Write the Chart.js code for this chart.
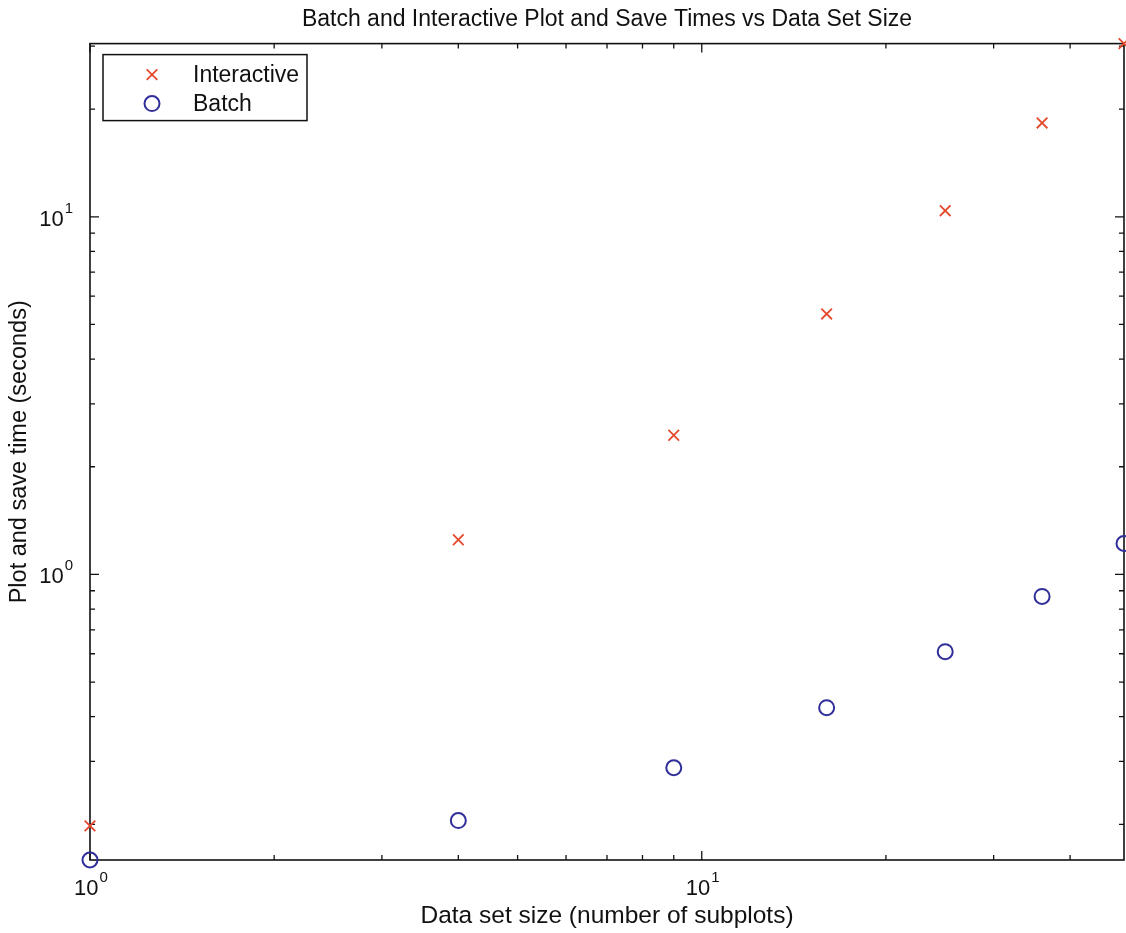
<!DOCTYPE html>
<html>
<head>
<meta charset="utf-8">
<title>Batch and Interactive Plot and Save Times</title>
<script src="https://cdn.jsdelivr.net/npm/chart.js@4.4.0/dist/chart.umd.min.js"></script>
<style>
  html, body { margin: 0; padding: 0; background: #fff; overflow: hidden; }
  #wrap { width: 1126px; height: 933px; }
</style>
</head>
<body>
<div id="wrap"><canvas id="timesChart"></canvas></div>
<script>
// data set size (number of subplots)
const subplots = [1, 4, 9, 16, 25, 36, 49];
// plot and save time, seconds
const interactiveTimes = [0.198, 1.25, 2.45, 5.35, 10.4, 18.3, 30.5];
const batchTimes = [0.159, 0.205, 0.288, 0.424, 0.608, 0.868, 1.22];
// labelled decades
const xMajorTicks = [1, 10];
const yMajorTicks = [1, 10];
const seriesLabels = ["Interactive", "Batch"];

const red = "#e5492c";
const blue = "#302e98";
const ink = "#111";
const family = "'Liberation Sans', Arial, Helvetica, sans-serif";

function toPoints(xs, ys) {
    let pts = [];
    for (let i = 0; i < xs.length; i++) pts.push({ x: xs[i], y: ys[i] });
    return pts;
}

// every 1..9 x 10^n inside the range
function logTicks(min, max) {
    let out = [];
    for (let e = Math.floor(Math.log10(min)); e <= Math.ceil(Math.log10(max)); e++) {
        for (let m = 1; m <= 9; m++) {
            let v = m * Math.pow(10, e);
            if (v >= min * 0.9999 && v <= max * 1.0001) out.push({ v: v, major: m === 1 });
        }
    }
    return out;
}

// "10" with a raised exponent
function drawPow(ctx, value, x, y, align) {
    let base = "10";
    let exp = String(Math.round(Math.log10(value)));
    ctx.font = "22px " + family;
    let wb = ctx.measureText(base).width;
    ctx.font = "15px " + family;
    let we = ctx.measureText(exp).width;
    let total = wb + 1 + we;
    let left = align === "center" ? x - total / 2 : x - total;
    ctx.fillStyle = ink;
    ctx.textAlign = "left";
    ctx.textBaseline = "alphabetic";
    ctx.font = "22px " + family;
    ctx.fillText(base, left, y);
    ctx.font = "15px " + family;
    ctx.fillText(exp, left + wb + 1, y - 13);
}

const axesBox = {
    id: "axesBox",
    beforeDatasetsDraw(chart) {
        const ctx = chart.ctx;
        const a = chart.chartArea;
        const xs = chart.scales.x;
        const ys = chart.scales.y;
        ctx.save();
        ctx.strokeStyle = ink;
        ctx.lineWidth = 1.6;
        ctx.strokeRect(a.left, a.top, a.right - a.left, a.bottom - a.top);
        ctx.lineWidth = 1.3;
        ctx.beginPath();
        logTicks(xs.min, xs.max).forEach(function (t) {
            let px = xs.getPixelForValue(t.v);
            let len = t.major ? 9 : 5;
            ctx.moveTo(px, a.bottom); ctx.lineTo(px, a.bottom - len);
            ctx.moveTo(px, a.top); ctx.lineTo(px, a.top + len);
        });
        logTicks(ys.min, ys.max).forEach(function (t) {
            let py = ys.getPixelForValue(t.v);
            let len = t.major ? 9 : 5;
            ctx.moveTo(a.left, py); ctx.lineTo(a.left + len, py);
            ctx.moveTo(a.right, py); ctx.lineTo(a.right - len, py);
        });
        ctx.stroke();
        xMajorTicks.forEach(function (v) {
            drawPow(ctx, v, xs.getPixelForValue(v) + 1, a.bottom + 35, "center");
        });
        yMajorTicks.forEach(function (v) {
            drawPow(ctx, v, a.left - 17, ys.getPixelForValue(v) + 9, "right");
        });
        ctx.restore();
    },
    afterDatasetsDraw(chart) {
        // legend box, top left inside the axes
        const ctx = chart.ctx;
        const a = chart.chartArea;
        let bx = a.left + 13, by = a.top + 11, bw = 204, bh = 66;
        ctx.save();
        ctx.fillStyle = "#fff";
        ctx.fillRect(bx, by, bw, bh);
        ctx.strokeStyle = ink;
        ctx.lineWidth = 1.5;
        ctx.strokeRect(bx, by, bw, bh);
        chart.data.datasets.forEach(function (ds, i) {
            let cy = by + 20 + i * 29;
            let cx = bx + 49;
            let r = ds.pointRadius;
            ctx.strokeStyle = ds.borderColor;
            ctx.lineWidth = ds.borderWidth;
            ctx.beginPath();
            if (ds.pointStyle === "crossRot") {
                let d = r * Math.SQRT1_2;
                ctx.moveTo(cx - d, cy - d); ctx.lineTo(cx + d, cy + d);
                ctx.moveTo(cx - d, cy + d); ctx.lineTo(cx + d, cy - d);
            } else {
                ctx.arc(cx, cy, r, 0, Math.PI * 2);
            }
            ctx.stroke();
            ctx.fillStyle = ink;
            ctx.font = "23px " + family;
            ctx.textAlign = "left";
            ctx.textBaseline = "middle";
            ctx.fillText(ds.label, bx + 90, cy + 1);
        });
        ctx.restore();
    }
};

function font(size) {
    return { family: family, size: size, weight: "normal", lineHeight: 1.2 };
}

new Chart(document.getElementById("timesChart"), {
    type: "scatter",
    data: {
        datasets: [
            {
                label: seriesLabels[0],
                data: toPoints(subplots, interactiveTimes),
                pointStyle: "crossRot",
                pointRadius: 7.5,
                pointHoverRadius: 7.5,
                borderWidth: 1.8,
                borderColor: red,
                backgroundColor: "rgba(0,0,0,0)",
                clip: false
            },
            {
                label: seriesLabels[1],
                data: toPoints(subplots, batchTimes),
                pointStyle: "circle",
                pointRadius: 7.5,
                pointHoverRadius: 7.5,
                borderWidth: 2,
                borderColor: blue,
                backgroundColor: "rgba(0,0,0,0)",
                clip: false
            }
        ]
    },
    options: {
        responsive: true,
        maintainAspectRatio: false,
        animation: false,
        layout: { autoPadding: false, padding: { left: 0, right: 2, top: 0, bottom: 0 } },
        scales: {
            x: {
                type: "logarithmic",
                min: Math.min(...subplots),
                max: Math.max(...subplots),
                grid: { display: false },
                border: { display: false },
                ticks: { display: false },
                title: {
                    display: true,
                    text: "Data set size (number of subplots)",
                    color: ink,
                    font: font(24.5),
                    padding: { top: 0, bottom: 2 }
                },
                afterFit: function (s) { s.height = 73; }
            },
            y: {
                type: "logarithmic",
                min: Math.min(...batchTimes),
                max: Math.max(...interactiveTimes),
                grid: { display: false },
                border: { display: false },
                ticks: { display: false },
                title: {
                    display: true,
                    text: "Plot and save time (seconds)",
                    color: ink,
                    font: font(23.5),
                    padding: { top: 5, bottom: 0 }
                },
                afterFit: function (s) { s.width = 90; }
            }
        },
        plugins: {
            legend: { display: false },
            tooltip: { enabled: false },
            title: {
                display: true,
                fullSize: false,
                text: "Batch and Interactive Plot and Save Times vs Data Set Size",
                color: ink,
                font: font(23),
                padding: { top: 6, bottom: 10 }
            }
        }
    },
    plugins: [axesBox]
});
</script>
</body>
</html>
